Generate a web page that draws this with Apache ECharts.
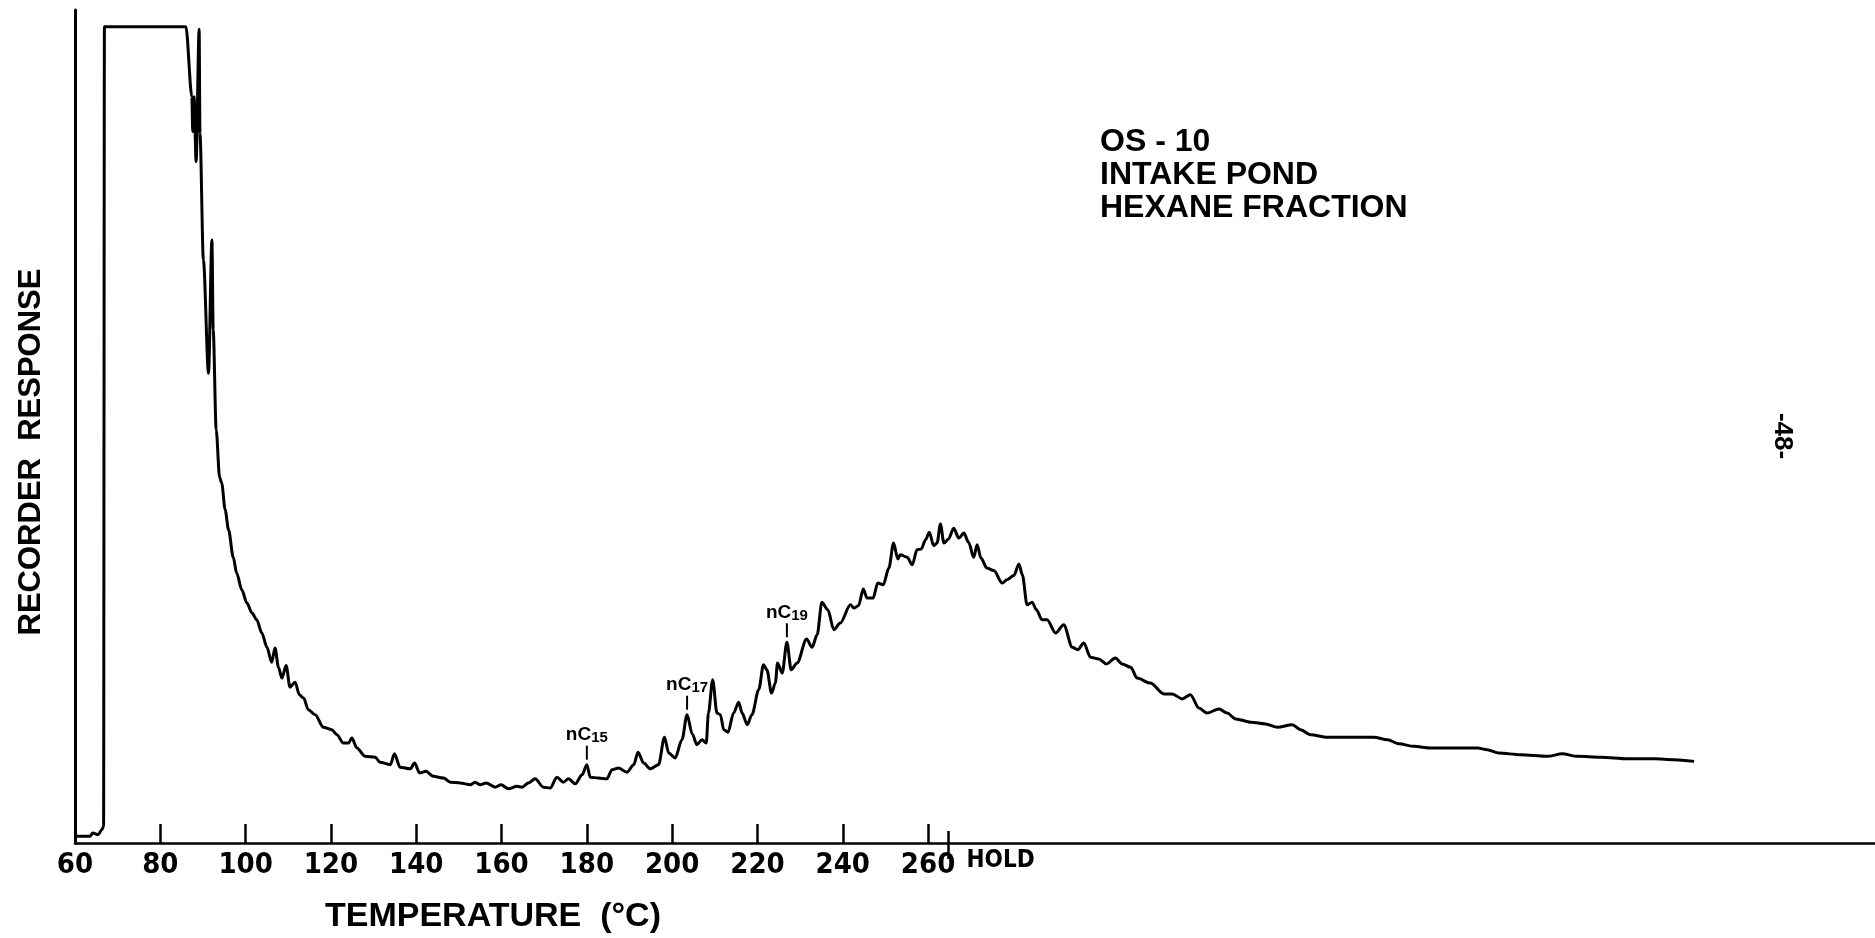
<!DOCTYPE html>
<html>
<head>
<meta charset="utf-8">
<title>OS-10 Intake Pond Hexane Fraction</title>
<script src="https://cdn.jsdelivr.net/npm/echarts@6/dist/echarts.min.js"></script>
<style>
  html, body { margin: 0; padding: 0; background: #fff; }
  #chart { width: 1875px; height: 938px; }
</style>
</head>
<body>
<div id="chart"></div>
<script>
// trace (x = column temperature, y = % of chart height)
var temps = [
  60.4, 63.5, 64.2, 65.4, 66.3, 66.7, 66.9, 86.0, 87.4, 87.6, 87.9, 88.4, 89.1, 89.3, 90.1, 91.3,
  92.1, 92.4, 93.1, 93.9, 94.4, 95.2, 96.0, 97.1, 97.9, 99.1, 100.3, 101.5, 102.6, 103.8, 105.0, 106.1,
  106.9, 107.7, 108.5, 109.5, 110.4, 111.6, 112.6, 113.6, 114.7, 116.3, 118.2, 120.2, 121.4, 122.9, 124.1, 124.9,
  126.1, 128.0, 130.4, 131.5, 133.9, 134.9, 136.2, 138.6, 139.6, 140.8, 142.3, 144.0, 146.4, 148.0, 150.3, 152.7,
  153.8, 155.0, 156.4, 158.5, 159.9, 161.6, 163.6, 164.8, 166.3, 167.9, 169.8, 171.4, 173.0, 174.5, 175.7, 177.3,
  178.9, 180.0, 180.8, 182.7, 184.7, 185.9, 187.4, 189.4, 191.0, 192.0, 193.3, 194.9, 196.8, 198.2, 199.2, 200.7,
  202.3, 203.5, 204.7, 205.8, 207.0, 208.0, 208.5, 209.5, 210.5, 211.3, 212.1, 213.1, 214.4, 215.6, 216.4, 217.6,
  218.7, 220.3, 221.4, 222.2, 223.3, 224.2, 224.7, 225.8, 226.9, 227.9, 229.3, 231.5, 232.8, 234.0, 235.1, 236.5,
  237.9, 239.4, 241.8, 242.6, 243.7, 244.8, 245.7, 247.1, 248.2, 249.5, 250.8, 251.9, 252.9, 253.5, 255.1, 256.3,
  257.4, 258.4, 259.4, 260.3, 261.3, 262.1, 262.9, 263.7, 264.8, 266.0, 267.2, 268.4, 269.5, 270.7, 271.5, 272.4,
  273.8, 275.4, 277.4, 278.5, 280.1, 281.3, 282.1, 283.2, 284.4, 285.4, 286.7, 287.9, 289.9, 291.8, 293.8, 295.1,
  296.5, 298.1, 300.0, 301.8, 303.9, 305.5, 307.5, 309.0, 312.1, 315.3, 317.2, 319.6, 321.5, 323.5, 325.4, 328.2,
  330.1, 332.1, 335.7, 339.1, 341.9, 345.4, 347.3, 349.7, 353.6, 357.5, 360.6, 364.5, 367.7, 370.4, 373.9, 377.8,
  380.2, 388.8, 391.1, 393.8, 398.9, 405.2, 408.7, 412.2, 417.7, 424.0, 430.2, 434.9, 439.6
];
var response = [
  0.8, 0.8, 1.2, 1.0, 1.6, 2.0, 98.0, 98.0, 89.6, 85.4, 89.6, 81.8, 97.7, 85.2, 70.0, 56.4,
  72.4, 61.6, 49.6, 43.9, 43.2, 40.0, 37.6, 34.3, 32.4, 30.4, 28.8, 27.6, 26.8, 25.2, 23.5, 21.7,
  23.4, 21.1, 19.8, 21.3, 18.7, 19.3, 17.8, 17.4, 16.0, 15.4, 13.9, 13.6, 13.0, 12.0, 12.0, 12.6,
  11.4, 10.4, 10.3, 9.7, 9.4, 10.7, 9.1, 8.9, 9.6, 8.4, 8.6, 8.0, 7.8, 7.3, 7.2, 7.0,
  7.3, 7.0, 7.2, 6.7, 7.0, 6.5, 6.8, 6.7, 7.2, 7.7, 6.7, 6.6, 7.9, 7.3, 7.7, 7.1,
  8.2, 9.4, 7.9, 7.8, 7.7, 8.8, 9.0, 8.5, 9.4, 10.9, 9.6, 8.9, 9.4, 12.7, 10.8, 10.2,
  12.4, 15.4, 13.1, 11.8, 12.4, 12.0, 15.6, 19.6, 15.6, 15.4, 13.6, 13.3, 15.6, 16.9, 15.6, 14.2,
  15.4, 18.4, 21.4, 20.8, 18.0, 19.2, 21.6, 20.4, 24.1, 20.8, 21.6, 24.5, 23.5, 25.0, 28.9, 28.0,
  25.6, 26.4, 28.6, 28.2, 28.5, 30.5, 29.4, 29.4, 31.2, 31.0, 33.0, 36.0, 34.1, 34.6, 34.3, 33.4,
  35.2, 35.3, 36.4, 37.3, 35.7, 36.0, 38.3, 36.0, 36.5, 37.8, 36.6, 37.2, 36.1, 34.3, 35.8, 34.2,
  33.0, 32.7, 31.2, 31.6, 32.1, 33.5, 32.2, 28.6, 28.9, 28.0, 26.8, 26.8, 25.2, 26.2, 23.5, 23.2,
  24.0, 22.3, 22.1, 21.5, 22.2, 21.5, 21.1, 19.8, 19.2, 17.9, 17.9, 17.3, 17.8, 16.2, 15.6, 16.1,
  15.6, 14.9, 14.5, 14.3, 13.9, 14.2, 13.6, 13.0, 12.7, 12.7, 12.7, 12.7, 12.4, 11.9, 11.6, 11.4,
  11.4, 11.4, 11.2, 10.8, 10.6, 10.4, 10.7, 10.4, 10.3, 10.1, 10.1, 10.0, 9.8
];

// n-alkane marker peaks
var nPeakT = [180.0, 203.5, 226.9];
var nPeakY = [9.4, 15.4, 24.1];
var nPeakNum = ['15', '17', '19'];

// axis labels
var tickTemps = [60, 80, 100, 120, 140, 160, 180, 200, 220, 240, 260];
var holdTemp = 264.8;

var FONT = '"Liberation Sans", Arial, sans-serif';
var NARROW = '"Liberation Sans Narrow", "DejaVu Sans Condensed", sans-serif';

var myChart = echarts.init(document.getElementById('chart'));

var baseX = {
  type: 'value',
  min: 60,
  max: 482,
  position: 'bottom',
  offset: 0,
  splitLine: { show: false }
};

var option = {
  backgroundColor: '#fff',
  animation: false,
  grid: { left: 75, right: 0, top: 10, bottom: 95 },
  title: [
    {
      text: 'OS - 10\nINTAKE POND\nHEXANE FRACTION',
      left: 1100, top: 126, padding: 0,
      textStyle: { fontSize: 32, lineHeight: 33, fontWeight: 'bold', color: '#000', fontFamily: FONT }
    },
    {
      text: 'TEMPERATURE  (°C)',
      left: 325, top: 900, padding: 0,
      textStyle: { fontSize: 34, fontWeight: 'bold', color: '#000', fontFamily: FONT }
    }
  ],
  graphic: [
    {
      type: 'text', x: 31, y: 452, rotation: Math.PI / 2,
      style: { text: 'RECORDER  RESPONSE', fill: '#000', font: 'bold 31px ' + FONT, align: 'center', verticalAlign: 'middle' }
    },
    {
      type: 'text', x: 1782, y: 436, rotation: -Math.PI / 2,
      style: { text: '-48-', fill: '#000', font: 'bold 26px ' + FONT, align: 'center', verticalAlign: 'middle' }
    }
  ],
  xAxis: [
    Object.assign({}, baseX, {
      axisLine: { show: true, onZero: false, lineStyle: { color: '#000', width: 2.5 } },
      axisTick: { show: true, inside: true, length: 19, customValues: tickTemps.slice(1), lineStyle: { color: '#000', width: 2.5 } },
      axisLabel: { customValues: tickTemps, color: '#000', fontSize: 29, fontWeight: 'bold', fontFamily: NARROW, margin: 8 }
    }),
    // HOLD marker: part above the axis + label
    Object.assign({}, baseX, {
      axisLine: { show: false, onZero: false },
      axisTick: { show: true, inside: true, length: 12, customValues: [holdTemp], lineStyle: { color: '#000', width: 2.5 } },
      axisLabel: {
        customValues: [holdTemp], formatter: function () { return 'HOLD'; },
        align: 'left', padding: [0, 0, 0, 18], margin: 6,
        color: '#000', fontSize: 24, fontWeight: 'bold', fontFamily: NARROW
      }
    }),
    // HOLD marker: part below the axis
    Object.assign({}, baseX, {
      axisLine: { show: false, onZero: false },
      axisTick: { show: true, inside: false, length: 16, customValues: [holdTemp], lineStyle: { color: '#000', width: 2.5 } },
      axisLabel: { show: false }
    })
  ],
  yAxis: {
    type: 'value',
    min: 0,
    max: 100,
    axisLine: { show: true, onZero: false, lineStyle: { color: '#000', width: 3 } },
    axisTick: { show: false },
    axisLabel: { show: false },
    splitLine: { show: false }
  },
  series: [
    {
      type: 'line',
      xAxisIndex: 0,
      data: temps.map(function (t, i) { return [t, response[i]]; }),
      symbol: 'none',
      showSymbol: false,
      smooth: 0.3,
      smoothMonotone: 'x',
      lineStyle: { color: '#000', width: 3 },
      markPoint: {
        symbol: 'rect',
        symbolSize: [2, 14],
        symbolOffset: [0, -12],
        itemStyle: { color: '#000' },
        label: {
          show: true,
          position: 'top',
          distance: -5,
          formatter: function (p) { return '{a|nC}{b|' + p.name + '}'; },
          rich: {
            a: { fontSize: 19, fontWeight: 'bold', color: '#000', fontFamily: FONT, padding: [0, 0, 6, 0] },
            b: { fontSize: 15, fontWeight: 'bold', color: '#000', fontFamily: FONT }
          }
        },
        data: nPeakT.map(function (t, i) {
          return { name: nPeakNum[i], coord: [t, nPeakY[i]] };
        })
      }
    }
  ]
};

myChart.setOption(option);
</script>
</body>
</html>
